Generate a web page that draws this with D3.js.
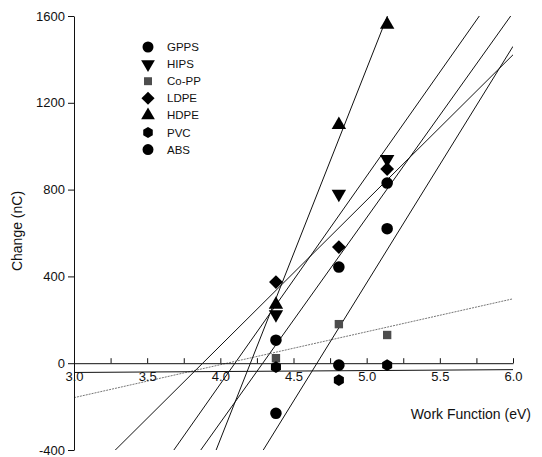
<!DOCTYPE html>
<html>
<head>
<meta charset="utf-8">
<script src="https://cdn.jsdelivr.net/npm/d3@7"></script>
<style>
  body { margin: 0; background: #fff; }
  text { font-family: "Liberation Sans", Arial, sans-serif; fill: #111; }
</style>
</head>
<body>
<div id="chart"></div>
<script>
// work function of the contact metals (eV)
var workFunction = [4.38, 4.81, 5.14];

// charge per polymer (nC)
var gpps = [106, 443, 830];
var hips = [225, 780, 940];
var copp = [23, 180, 130];
var ldpe = [374, 535, 895];
var hdpe = [270, 1098, 1560];
var pvc  = [-18, -78, -9];
var abs  = [-231, -9, 620];

var seriesNames = ["GPPS", "HIPS", "Co-PP", "LDPE", "HDPE", "PVC", "ABS"];
var seriesValues = [gpps, hips, copp, ldpe, hdpe, pvc, abs];
var seriesShapes = ["circle", "down", "square", "diamond", "up", "hex", "circle"];

var xTicks = [3.0, 3.25, 3.5, 3.75, 4.0, 4.25, 4.5, 4.75, 5.0, 5.25, 5.5, 5.75, 6.0];
var yTicks = [-400, 0, 400, 800, 1200, 1600];

var svgWidth = 542, svgHeight = 457;

var svg = d3.select("#chart").append("svg")
  .attr("width", svgWidth)
  .attr("height", svgHeight);

var xScale = d3.scaleLinear().domain([3, 6]).range([74, 513]);
var yScale = d3.scaleLinear().domain([-400, 1600]).range([450, 16]);

svg.append("clipPath").attr("id", "plotclip")
  .append("rect")
  .attr("x", xScale(3)).attr("y", yScale(1600))
  .attr("width", xScale(6) - xScale(3))
  .attr("height", yScale(-400) - yScale(1600));

// least squares line for each series
function fit(xs, ys) {
  var mx = d3.mean(xs), my = d3.mean(ys);
  var sxy = d3.sum(xs, (x, i) => (x - mx) * (ys[i] - my));
  var sxx = d3.sum(xs, x => (x - mx) * (x - mx));
  var b = sxy / sxx;
  return x => my + b * (x - mx);
}

var lineGroup = svg.append("g").attr("clip-path", "url(#plotclip)");
seriesValues.forEach(function(vals, i) {
  var f = fit(workFunction, vals);
  lineGroup.append("line")
    .attr("x1", xScale(3)).attr("y1", yScale(f(3)))
    .attr("x2", xScale(6)).attr("y2", yScale(f(6)))
    .attr("stroke", seriesNames[i] == "Co-PP" ? "#777" : "#111")
    .attr("stroke-width", 1)
    .attr("stroke-dasharray", seriesNames[i] == "Co-PP" ? "2,1" : null);
});

// axes
var xAxis = d3.axisBottom(xScale)
  .tickValues(xTicks)
  .tickSizeInner(-5)
  .tickSizeOuter(0)
  .tickPadding(9)
  .tickFormat(d => (d * 2) % 1 === 0 ? d.toFixed(1) : "");

svg.append("g")
  .attr("transform", `translate(0, ${yScale(0)})`)
  .call(xAxis)
  .call(g => g.selectAll("text").attr("font-size", 13).attr("font-family", "Liberation Sans, Arial, sans-serif").attr("fill", "#111"))
  .call(g => g.selectAll("path,line").attr("stroke", "#111"));

var yAxis = d3.axisLeft(yScale)
  .tickValues(yTicks)
  .tickSizeInner(6)
  .tickSizeOuter(0)
  .tickPadding(3)
  .tickFormat(d => String(d));

svg.append("g")
  .attr("transform", `translate(${xScale(3)}, 0)`)
  .call(yAxis)
  .call(g => g.selectAll("text").attr("font-size", 13).attr("font-family", "Liberation Sans, Arial, sans-serif").attr("fill", "#111"))
  .call(g => g.selectAll("path,line").attr("stroke", "#111"));

svg.append("text")
  .attr("transform", "translate(22, 231) rotate(-90)")
  .attr("text-anchor", "middle")
  .attr("font-size", 14)
  .text("Change (nC)");

svg.append("text")
  .attr("x", 531).attr("y", 419)
  .attr("text-anchor", "end")
  .attr("font-size", 14)
  .text("Work Function (eV)");

// markers
function shapePath(shape) {
  if (shape == "circle") return d3.symbol(d3.symbolCircle, 105)();
  if (shape == "up") return d3.symbol(d3.symbolTriangle, 90)();
  if (shape == "down") return d3.symbol(d3.symbolTriangle, 90)();
  if (shape == "square") return d3.symbol(d3.symbolSquare, 70)();
  if (shape == "diamond") return d3.symbol(d3.symbolSquare, 95)();
  if (shape == "hex") {
    var pts = d3.range(6).map(k => {
      var a = Math.PI / 3 * k;
      return [5.8 * Math.sin(a), -5.8 * Math.cos(a)];
    });
    return "M" + pts.join("L") + "Z";
  }
}
function shapeRotate(shape) {
  if (shape == "down") return " rotate(180)";
  if (shape == "diamond") return " rotate(45)";
  return "";
}
function shapeFill(shape) {
  return shape == "square" ? "#4d4d4d" : "#000";
}

var pointGroup = svg.append("g");
seriesValues.forEach(function(vals, i) {
  var shape = seriesShapes[i];
  pointGroup.selectAll(null)
    .data(vals)
    .enter()
    .append("path")
    .attr("d", shapePath(shape))
    .attr("transform", (d, j) => `translate(${xScale(workFunction[j])}, ${yScale(d)})` + shapeRotate(shape))
    .attr("fill", shapeFill(shape));
});

// legend
var legend = svg.append("g").attr("transform", "translate(148, 47)");
seriesNames.forEach(function(name, i) {
  var shape = seriesShapes[i];
  var row = legend.append("g").attr("transform", `translate(0, ${i * 17.1})`);
  row.append("path")
    .attr("d", shapePath(shape))
    .attr("transform", "scale(0.95)" + shapeRotate(shape))
    .attr("fill", shapeFill(shape));
  row.append("text")
    .attr("x", 19).attr("y", 4)
    .attr("font-size", 11.5)
    .text(name);
});
</script>
</body>
</html>
